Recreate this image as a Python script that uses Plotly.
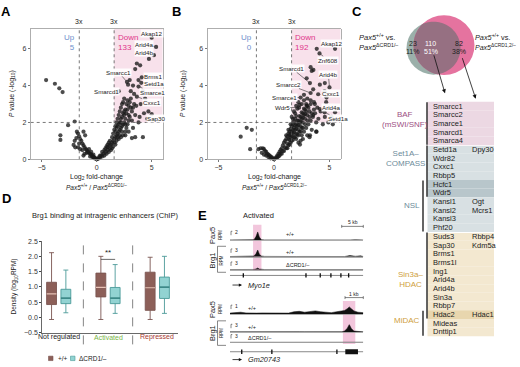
import numpy as np
import plotly.graph_objects as go

W, H = 520, 367
def px(x): return x / W
def py(y): return 1 - y / H

FONT = "Liberation Sans, Arial, sans-serif"

# ---------------- data ----------------
fold_threshold = 3
p_threshold_log = 2
vol_xlim = [-6, 6]
vol_ylim = [0, 7.1]

volcano_a = [
    (5.0, 6.6), (5.4, 6.1), (5.2, 5.65), (4.75, 5.45), (3.65, 5.2), (3.95, 5.1), (3.5, 4.9),
    (2.75, 4.2), (2.85, 4.05), (3.0, 4.3), (4.1, 4.45), (4.05, 4.15), (3.8, 3.95), (3.65, 3.4),
    (4.6, 2.2), (5.0, 2.45), (2.0, 3.7), (3.3, 4.0), (3.1, 3.7), (3.4, 3.55), (3.8, 4.3),
    (4.2, 3.7), (4.4, 3.3), (4.0, 3.0), (3.6, 2.9), (4.7, 2.6), (4.3, 2.5), (3.9, 2.3),
    (3.2, 2.1), (3.5, 2.4), (4.2, 1.2), (3.5, 1.2), (3.2, 1.15), (2.6, 1.3), (2.9, 1.5),
    (3.8, 2.0), (3.3, 1.7),
    (1.3, 0.8), (1.4, 0.9), (1.5, 1.0), (1.6, 1.1), (1.7, 1.2), (1.8, 1.3), (1.9, 1.4),
    (2.0, 1.5), (2.1, 1.6), (2.2, 1.7), (2.3, 1.8), (2.4, 1.9), (2.5, 2.0), (1.5, 1.4),
    (1.6, 1.6), (1.7, 1.8), (1.8, 2.0), (1.9, 2.2), (2.0, 2.4), (2.1, 2.6), (2.2, 2.8),
    (2.3, 3.0), (2.4, 3.1), (2.5, 3.3), (1.6, 0.9), (1.8, 1.0), (2.0, 1.1), (2.2, 1.2),
    (2.4, 1.3), (2.6, 1.5), (2.7, 1.7), (2.8, 1.9), (2.9, 2.1), (3.0, 2.3), (2.6, 2.2),
    (2.7, 2.5), (2.8, 2.7), (2.9, 2.9), (3.0, 3.1), (3.1, 3.3), (2.2, 2.2), (2.4, 2.5),
    (2.6, 2.7), (2.8, 3.2), (2.1, 2.0), (1.9, 1.8), (1.7, 1.5), (2.3, 2.3), (2.5, 2.6),
    (2.7, 3.0), (3.2, 2.6), (3.3, 2.8), (3.4, 3.0), (2.0, 1.9), (2.2, 2.0), (1.8, 1.7),
    (2.6, 1.9), (2.9, 2.4), (3.1, 2.8), (2.5, 2.4), (2.3, 1.5), (2.1, 1.3), (1.9, 1.2),
    (1.4, 1.2), (1.2, 1.0), (1.1, 0.9), (1.0, 0.8), (0.9, 0.7), (1.2, 0.6), (1.0, 0.5),
    (0.8, 0.4), (0.6, 0.3), (0.4, 0.2), (0.2, 0.1), (0.7, 0.5), (0.5, 0.4), (0.3, 0.2),
    (1.1, 0.4), (0.9, 0.3), (0.7, 0.2), (0.5, 0.15), (0.3, 0.08), (0.1, 0.02), (0.0, 0.0),
    (1.3, 0.5), (1.5, 0.7), (1.7, 0.8), (0.8, 0.6), (1.0, 0.65), (1.2, 0.75), (1.4, 0.6),
    (-0.1, 0.05), (-0.2, 0.1), (-0.3, 0.12), (-0.4, 0.2), (-0.5, 0.25), (-0.6, 0.3),
    (-0.7, 0.35), (-0.8, 0.4), (-0.9, 0.5), (-1.0, 0.55), (-1.1, 0.65), (-1.2, 0.75),
    (-1.3, 0.85), (-1.4, 1.0), (-1.5, 1.1), (-1.6, 1.25), (-1.7, 1.4), (-1.8, 1.5),
    (-0.3, 0.25), (-0.5, 0.4), (-0.7, 0.55), (-0.9, 0.35), (-1.1, 0.3), (-1.3, 0.5),
    (-1.5, 0.55), (-1.2, 0.2), (-0.2, 0.05), (-0.4, 0.12), (-0.6, 0.15), (-1.6, 0.85),
    (-1.85, 1.15), (-1.7, 0.65), (-2.0, 1.0), (-1.95, 0.65), (-2.1, 0.78), (-1.2, 1.5),
    (-1.05, 1.3), (-2.6, 1.85), (-2.0, 2.05), (-3.3, 1.3), (-3.3, 1.05),
    (-4.6, 4.3), (-3.8, 4.1), (-3.4, 3.85), (-3.1, 3.65),
]

volcano_b = [
    (0.1, 0.05), (0.2, 0.1), (0.3, 0.2), (0.4, 0.3), (0.5, 0.4), (0.6, 0.5), (0.7, 0.6),
    (0.8, 0.75), (0.9, 0.9), (1.0, 1.0), (1.1, 1.1), (1.2, 1.25), (1.3, 1.4), (1.4, 1.5),
    (1.5, 1.65), (1.6, 1.8), (1.7, 1.9), (1.8, 2.05), (1.9, 2.2), (2.0, 2.35),
    (0.3, 0.1), (0.5, 0.2), (0.7, 0.3), (0.9, 0.45), (1.1, 0.6), (1.3, 0.75), (1.5, 0.9),
    (1.7, 1.05), (1.9, 1.2), (2.1, 1.35), (2.3, 1.5), (2.5, 1.7),
    (0.4, 0.15), (0.6, 0.3), (0.8, 0.45), (1.0, 0.65), (1.2, 0.85), (1.4, 1.05), (1.6, 1.25),
    (1.8, 1.45), (2.0, 1.65), (2.2, 1.85), (2.4, 2.05), (2.6, 2.25), (2.8, 2.45),
    (1.1, 1.3), (1.3, 1.6), (1.5, 1.9), (1.7, 2.2), (1.9, 2.5), (2.1, 2.75), (2.3, 2.95),
    (1.6, 2.3), (1.8, 2.6), (2.0, 2.9), (2.2, 3.1),
    (1.2, 0.6), (1.4, 0.8), (1.6, 1.0), (1.8, 1.2), (2.0, 1.4), (2.2, 1.6), (2.4, 1.8),
    (2.6, 2.0), (2.8, 2.2), (3.0, 2.4), (3.2, 2.6),
    (1.5, 1.2), (1.7, 1.4), (1.9, 1.6), (2.1, 1.8), (2.3, 2.0), (2.5, 2.2), (2.7, 2.4),
    (2.9, 2.6), (3.1, 2.8), (3.3, 3.0),
    (1.4, 1.3), (1.6, 1.5), (1.8, 1.7), (2.0, 1.9), (2.2, 2.1), (2.4, 2.3), (2.6, 2.5),
    (2.8, 2.7), (3.0, 2.9),
    (1.3, 1.1), (1.5, 1.35), (1.7, 1.6), (1.9, 1.85), (2.1, 2.1), (2.3, 2.35), (2.5, 2.55),
    (2.7, 2.75), (2.9, 3.0),
    (2.0, 1.1), (2.2, 1.3), (2.4, 1.5), (2.6, 1.7), (2.8, 1.9), (3.0, 2.1), (3.2, 2.3),
    (3.4, 2.5), (3.6, 2.7),
    (2.5, 1.3), (2.7, 1.5), (2.9, 1.7), (3.1, 1.9), (3.3, 2.1), (3.5, 2.3), (3.7, 2.5),
    (2.2, 0.9), (2.6, 1.1), (3.0, 1.3), (3.4, 1.6), (3.8, 1.5), (3.2, 1.2), (2.4, 1.0),
    (3.8, 2.0), (4.0, 2.2), (4.2, 2.6), (3.9, 2.8), (3.6, 3.1), (3.3, 3.2), (3.0, 3.3),
    (2.7, 3.2), (2.5, 3.0),
    (2.4, 3.35), (2.26, 2.8), (2.7, 3.5), (3.3, 3.6), (2.94, 4.4), (3.24, 4.14), (3.55, 4.85),
    (3.4, 4.8), (3.3, 5.0), (3.53, 3.8), (3.98, 3.53), (3.68, 3.0), (2.94, 2.9), (4.13, 2.73),
    (4.58, 2.3), (5.18, 2.3), (5.5, 2.55), (3.53, 2.4), (4.55, 2.55), (4.7, 3.1), (4.73, 3.35),
    (4.55, 3.7), (4.13, 4.05), (4.58, 4.14), (5.0, 3.9), (3.85, 6.0), (5.5, 6.0), (4.1, 5.75),
    (3.83, 1.5), (3.24, 1.3), (2.34, 0.8), (4.4, 1.9), (4.9, 2.0), (5.3, 1.9),
    (-0.1, 0.05), (-0.2, 0.1), (-0.3, 0.15), (-0.4, 0.2), (-0.5, 0.25), (-0.6, 0.3),
    (-0.7, 0.4), (-0.8, 0.45), (-0.9, 0.55), (-1.0, 0.6), (-0.3, 0.05), (-0.5, 0.12),
    (-0.7, 0.2), (-1.2, 0.6), (-1.4, 0.55), (-2.15, 0.55), (-2.0, 1.6), (-2.46, 1.71),
    (-3.0, 1.23), (-1.1, 0.35), (-0.9, 0.25), (0.0, 0.0),
]

counts_a = {"up": 5, "down": 133}
counts_b = {"up": 0, "down": 192}

# labelled genes: (name, log2fc, -log10 p)
labels_a = [("Akap12", 5.0, 6.6), ("Arid4a", 5.4, 6.1), ("Arid4b", 5.2, 5.65),
            ("Smarcc1", 2.75, 4.2), ("Brms1", 4.1, 4.45), ("Setd1a", 4.05, 4.15),
            ("Smarce1", 3.8, 3.95), ("Cxxc1", 3.65, 3.4), ("Sap30", 4.6, 2.2),
            ("Smarcd1", 2.0, 3.7)]
labels_b = [("Akap12", 5.5, 6.0), ("Znf608", 4.1, 5.75), ("Smarcd1", 3.24, 4.14),
            ("Arid4b", 5.0, 3.9), ("Smarcc2", 3.3, 3.6), ("Cxxc1", 4.55, 3.7),
            ("Smarce1", 2.4, 3.35), ("Arid4a", 4.7, 3.1), ("Wdr5", 2.26, 2.8),
            ("Setd1a", 4.55, 2.55)]
# label text positions (layout)
label_pos_a = {"Akap12": (5.0, 6.85), "Arid4a": (4.3, 6.25), "Arid4b": (4.3, 5.78),
               "Smarcc1": (2.0, 4.72), "Brms1": (5.15, 4.5), "Setd1a": (5.2, 4.12),
               "Smarce1": (5.1, 3.65), "Cxxc1": (5.0, 3.1), "Sap30": (5.35, 2.2),
               "Smarcd1": (0.9, 3.7)}
label_pos_b = {"Akap12": (5.2, 6.3), "Znf608": (4.9, 5.38), "Smarcd1": (1.6, 4.94),
               "Arid4b": (4.9, 4.58), "Smarcc2": (1.3, 4.06), "Cxxc1": (5.15, 3.56),
               "Smarce1": (0.95, 3.35), "Arid4a": (5.15, 2.82), "Wdr5": (0.75, 2.82),
               "Setd1a": (5.75, 2.2)}

venn_counts = [23, 110, 82]
venn_pct = ["11%", "51%", "38%"]

table_genes = ["Smarcc1", "Smarcc2", "Smarce1", "Smarcd1", "Smarca4",
               "Setd1a", "Wdr82", "Cxxc1", "Rbbp5",
               "Hcfc1", "Wdr5",
               "Kansl1", "Kansl2", "Kansl3", "Phf20",
               "Suds3", "Sap30", "Brms1", "Brms1l", "Ing1", "Arid4a", "Arid4b", "Sin3a", "Rbbp7",
               "Hdac2",
               "Mideas", "Dnttip1"]
table_extra = {"Setd1a": "Dpy30", "Kansl1": "Ogt", "Kansl2": "Mcrs1",
               "Suds3": "Rbbp4", "Sap30": "Kdm5a", "Hdac2": "Hdac1"}
row_group = (["baf"] * 5 + ["set"] * 4 + ["setnsl"] * 2 + ["nsl"] * 4 +
             ["sin"] * 9 + ["sinmid"] + ["mid"] * 2)
complexes = [("BAF<br>(mSWI/SNF)", 0, 4), ("Set1A–<br>COMPASS", 5, 10), ("NSL", 9, 14),
             ("Sin3a–<br>HDAC", 15, 24), ("MiDAC", 24, 26)]

box_groups = ["Not regulated", "Activated", "Repressed"]
wt_box = dict(low=[-0.07, -0.07, -0.07], q1=[0.42, 0.67, 0.23], med=[0.77, 0.98, 0.97],
              q3=[1.15, 1.45, 1.48], high=[2.12, 2.0, 1.97])
ko_box = dict(low=[0.15, 0.13, 0.13], q1=[0.45, 0.45, 0.62], med=[0.63, 0.63, 0.99],
              q3=[0.92, 0.98, 1.32], high=[1.55, 1.73, 2.0])

# genome tracks (position along locus 0-100, signal in RPM)
myo1e_pos = [0, 4, 8, 12, 16, 18, 19.5, 20.8, 22, 23.5, 26, 30, 34, 38, 42, 46, 50, 54, 58,
             62, 66, 70, 74, 78, 82, 86, 90, 94, 98, 100]
myo1e_pax5 = [0.05, 0.04, 0.05, 0.04, 0.05, 0.1, 0.8, 1.85, 0.7, 0.1, 0.05, 0.04, 0.05, 0.04,
              0.05, 0.04, 0.05, 0.05, 0.04, 0.05, 0.06, 0.05, 0.04, 0.05, 0.06, 0.05, 0.04,
              0.08, 0.05, 0.04]
myo1e_brg1_wt = [0.1, 0.1, 0.12, 0.1, 0.15, 0.3, 1.2, 2.6, 1.0, 0.3, 0.15, 0.1, 0.12, 0.1,
                 0.1, 0.12, 0.1, 0.12, 0.1, 0.1, 0.12, 0.1, 0.1, 0.15, 0.12, 0.1, 0.5, 0.2,
                 0.35, 0.1]
myo1e_brg1_ko = [0.1, 0.08, 0.1, 0.08, 0.1, 0.15, 0.35, 0.7, 0.3, 0.12, 0.1, 0.1, 0.15, 0.1,
                 0.08, 0.12, 0.1, 0.1, 0.1, 0.12, 0.08, 0.1, 0.1, 0.12, 0.1, 0.1, 0.12, 0.1,
                 0.12, 0.1]
myo1e_exons = [10, 57, 67.7, 75.7, 83.2, 89]

gm_pos = [0, 4, 8, 12, 16, 20, 24, 28, 32, 36, 40, 44, 48, 52, 56, 60, 64, 68, 72, 76, 80,
          84, 86, 88, 89.5, 91, 93, 96, 100]
gm_pax5 = [0.1, 0.15, 0.2, 0.12, 0.15, 0.1, 0.12, 0.1, 0.1, 0.12, 0.1, 0.1, 0.25, 0.3, 0.2,
           0.3, 0.35, 0.25, 0.2, 0.15, 0.25, 0.3, 0.4, 0.6, 0.8, 0.6, 0.35, 0.2, 0.15]
gm_brg1_wt = [0.1, 0.12, 0.15, 0.1, 0.12, 0.1, 0.15, 0.1, 0.12, 0.1, 0.1, 0.12, 0.1, 0.15,
              0.12, 0.1, 0.15, 0.12, 0.1, 0.12, 0.1, 0.15, 0.4, 1.5, 2.9, 1.4, 0.4, 0.15, 0.1]
gm_brg1_ko = [0.05, 0.06, 0.05, 0.06, 0.05, 0.06, 0.05, 0.06, 0.08, 0.1, 0.12, 0.1, 0.08, 0.1,
              0.12, 0.1, 0.08, 0.1, 0.08, 0.1, 0.12, 0.15, 0.12, 0.1, 0.12, 0.1, 0.08, 0.1, 0.08]
gm_exons = [8.8, 31.4, 80.2]
gm_block = [86.5, 96]

# ---------------- figure ----------------
fig = go.Figure()
shapes, annos = [], []

def A(x, y, text, size=7, color="#222", xanchor="center", yanchor="middle", **kw):
    d = dict(x=px(x), y=py(y), xref="paper", yref="paper", text=text, showarrow=False,
             font=dict(size=size, color=color, family=FONT), xanchor=xanchor, yanchor=yanchor)
    d.update(kw)
    annos.append(d)

def arrow(x0, y0, x1, y1, head=2, width=0.8, size=1.0):
    annos.append(dict(x=px(x1), y=py(y1), ax=x0 - x1, ay=y0 - y1, xref="paper", yref="paper",
                      axref="pixel", ayref="pixel", text=" ", showarrow=True, arrowhead=head,
                      arrowsize=size, arrowwidth=width, arrowcolor="#111",
                      font=dict(size=1)))

lfc3 = np.log2(fold_threshold)

# ---- volcano panels ----
vol_panels = [
    ("x", "y", volcano_a, labels_a, label_pos_a, counts_a, (30.7, 162.7), "ΔCRD1/–", 12),
    ("x2", "y2", volcano_b, labels_b, label_pos_b, counts_b, (207.4, 340.6), "ΔCRD1,2/–", 183),
]
for i, (xa, ya, pts, labs, lpos, cnt, dom, geno, ytitle_x) in enumerate(vol_panels):
    xs = [p[0] for p in pts]
    ys = [p[1] for p in pts]
    fig.add_trace(go.Scatter(x=xs, y=ys, mode="markers", xaxis=xa, yaxis=ya, showlegend=False,
                             cliponaxis=False,
                             marker=dict(size=4.2, color="rgba(25,25,25,0.78)", line=dict(width=0))))
    axn = "" if i == 0 else "2"
    fig.layout["xaxis" + axn] = dict(domain=[px(dom[0]), px(dom[1])], range=vol_xlim,
                                     anchor=ya, showgrid=False, zeroline=False,
                                     showline=True, mirror=True, linecolor="#9a9a9a", linewidth=0.8,
                                     ticks="outside", ticklen=2, tickcolor="#777",
                                     tickvals=[-5, 0, 5], tickfont=dict(size=7, family=FONT, color="#333"))
    fig.layout["yaxis" + axn] = dict(domain=[py(158.3), py(25)], range=vol_ylim, anchor=xa,
                                     showgrid=False, zeroline=False, showline=True, mirror=True,
                                     linecolor="#9a9a9a", linewidth=0.8, ticks="outside", ticklen=2,
                                     tickcolor="#777", tickvals=[0, 2, 4, 6],
                                     tickfont=dict(size=7, family=FONT, color="#333"))
    shapes.append(dict(type="rect", xref=xa, yref=ya, x0=lfc3, x1=vol_xlim[1], y0=p_threshold_log,
                       y1=vol_ylim[1], fillcolor="#f8e1eb", line=dict(width=0), layer="below"))
    for xv in (-lfc3, lfc3):
        shapes.append(dict(type="line", xref=xa, yref=ya, x0=xv, x1=xv, y0=vol_ylim[0], y1=vol_ylim[1],
                           line=dict(color="#555", width=0.8, dash="dot")))
        annos.append(dict(x=xv, y=vol_ylim[1], xref=xa, yref=ya, text=f"{fold_threshold}x",
                          showarrow=False, yanchor="bottom", yshift=2,
                          font=dict(size=7, family=FONT, color="#222")))
    shapes.append(dict(type="line", xref=xa, yref=ya, x0=vol_xlim[0], x1=vol_xlim[1],
                       y0=p_threshold_log, y1=p_threshold_log,
                       line=dict(color="#555", width=0.8, dash="dot")))
    annos.append(dict(x=-lfc3 - 0.25, y=6.95, xref=xa, yref=ya, text=f"Up<br>{cnt['up']}",
                      showarrow=False, xanchor="right", yanchor="top", align="right",
                      font=dict(size=8, family=FONT, color="#6f90cc")))
    annos.append(dict(x=lfc3 + 0.15, y=6.95, xref=xa, yref=ya, text=f"Down<br>{cnt['down']}",
                      showarrow=False, xanchor="left", yanchor="top", align="left",
                      font=dict(size=8, family=FONT, color="#e0348a")))
    for name, lx, ly in labs:
        tx, ty = lpos[name]
        annos.append(dict(x=lx, y=ly, xref=xa, yref=ya, ax=tx, ay=ty, axref=xa, ayref=ya,
                          text=name, showarrow=True, arrowhead=0, arrowwidth=0.6,
                          arrowcolor="#333", standoff=1.5, bgcolor="rgba(255,255,255,0.9)",
                          borderpad=0, font=dict(size=6.2, family=FONT, color="#222")))
    cx = (dom[0] + dom[1]) / 2
    A(cx, 176.5, "Log<sub>2</sub> fold-change", size=7)
    A(cx, 187, f"<i>Pax5</i><sup>+/+</sup> / <i>Pax5</i><sup>{geno}</sup>", size=6.5)
    A(ytitle_x, 92, "<i>P</i> value (-log<sub>10</sub>)", size=7, textangle=-90)

# ---- panel letters ----
for lt, x, y in [("A", 6, 8), ("B", 176, 8), ("C", 357, 8), ("D", 6, 198), ("E", 202, 216)]:
    A(x, y, f"<b>{lt}</b>", size=13, color="#000")

# ---- Venn (C) ----
g_c, g_r = (433.5, 45.0), 27.0
p_c, p_r = (444.0, 42.0), 30.5
def circ(c, r, color):
    shapes.append(dict(type="circle", xref="paper", yref="paper", x0=px(c[0] - r), x1=px(c[0] + r),
                       y0=py(c[1] + r), y1=py(c[1] - r), fillcolor=color, line=dict(width=0)))
circ(g_c, g_r, "#9bb0aa")
circ(p_c, p_r, "#e5739f")
d = np.hypot(p_c[0] - g_c[0], p_c[1] - g_c[1])
ang = np.arctan2(p_c[1] - g_c[1], p_c[0] - g_c[0])
a_g = np.arccos((g_r**2 + d**2 - p_r**2) / (2 * g_r * d))
a_p = np.arccos((p_r**2 + d**2 - g_r**2) / (2 * p_r * d))
t1 = np.linspace(ang - a_g, ang + a_g, 50)
t2 = np.linspace(ang + np.pi - a_p, ang + np.pi + a_p, 50)
ptsl = [(g_c[0] + g_r * np.cos(t), g_c[1] + g_r * np.sin(t)) for t in t1] + \
       [(p_c[0] + p_r * np.cos(t), p_c[1] + p_r * np.sin(t)) for t in t2]
path = "M " + " L ".join(f"{px(a):.5f},{py(b):.5f}" for a, b in ptsl) + " Z"
shapes.append(dict(type="path", xref="paper", yref="paper", path=path, fillcolor="#967082",
                   line=dict(width=0)))
for (x, c_), n, pc in zip([(413.3, "#222"), (430.5, "#fff"), (458.5, "#222")], venn_counts, venn_pct):
    A(x, 40.7, str(n), size=7, color=c_)
    A(x, 48.5, pc, size=7, color=c_)
A(357, 33.5, "<i>Pax5</i><sup>+/+</sup> vs.", size=7.5, xanchor="left")
A(357, 44, "<i>Pax5</i><sup>ΔCRD1/–</sup>", size=7.5, xanchor="left")
A(473, 33.5, "<i>Pax5</i><sup>+/+</sup> vs.", size=7.3, xanchor="left")
A(473, 44, "<i>Pax5</i><sup>ΔCRD1,2/–</sup>", size=7, xanchor="left")
arrow(433.3, 51, 445, 91)
arrow(461.7, 54, 475.7, 96.5)

# ---- table (C) ----
row0, pitch = 104.0, 8.86
fills = {"baf": "#ecd8e3", "set": "#d8e0e3", "setnsl": "#b8c6cb", "nsl": "#d8e0e3",
         "sin": "#f3e8d0", "sinmid": "#e8d6ae", "mid": "#f3e8d0"}
for k, (g, grp) in enumerate(zip(table_genes, row_group)):
    yc = row0 + k * pitch
    top = yc - pitch / 2
    bot = yc + pitch / 2
    if k in (5, 15):
        top += 1.0
    shapes.append(dict(type="rect", xref="paper", yref="paper", x0=px(427.5), x1=px(494),
                       y0=py(bot), y1=py(top), fillcolor=fills[grp], line=dict(width=0), layer="below"))
    A(431, yc, g, size=7.5, xanchor="left")
    if g in table_extra:
        A(470, yc, table_extra[g], size=7.5, xanchor="left")
cx_lab = {"BAF<br>(mSWI/SNF)": (405, "#9c4f83"), "Set1A–<br>COMPASS": (405, "#6d8b9a"),
          "NSL": (412, "#6d8b9a"), "Sin3a–<br>HDAC": (410, "#cfa040"), "MiDAC": (407, "#cfa040")}
bar_x = {"BAF<br>(mSWI/SNF)": 427, "Set1A–<br>COMPASS": 427, "NSL": 423,
         "Sin3a–<br>HDAC": 427, "MiDAC": 423}
lab_y = {"BAF<br>(mSWI/SNF)": 118, "Set1A–<br>COMPASS": 157.5, "NSL": 205,
         "Sin3a–<br>HDAC": 281, "MiDAC": 322.5}
for name, r0, r1 in complexes:
    xl, col = cx_lab[name]
    A(xl, lab_y[name], name, size=8, color=col)
    bx = bar_x[name]
    y0 = row0 + r0 * pitch - pitch / 2 + 0.5
    y1 = row0 + r1 * pitch + pitch / 2 - 0.5
    shapes.append(dict(type="line", xref="paper", yref="paper", x0=px(bx), x1=px(bx),
                       y0=py(y0), y1=py(y1), line=dict(color="#111", width=1.3)))

# ---- box plot (D) ----
gx = [0, 1, 2]
off, bw = 0.145, 0.2
fig.add_trace(go.Box(x=[g - off for g in gx], q1=wt_box["q1"], median=wt_box["med"],
                     q3=wt_box["q3"], lowerfence=wt_box["low"], upperfence=wt_box["high"],
                     width=bw, fillcolor="#8c5f58", line=dict(color="#7a5550", width=0.9),
                     xaxis="x3", yaxis="y3", showlegend=False, name="+/+"))
fig.add_trace(go.Box(x=[g + off for g in gx], q1=ko_box["q1"], median=ko_box["med"],
                     q3=ko_box["q3"], lowerfence=ko_box["low"], upperfence=ko_box["high"],
                     width=bw, fillcolor="#92d3d2", line=dict(color="#4b9a98", width=0.9),
                     xaxis="x3", yaxis="y3", showlegend=False, name="ΔCRD1/–"))
for g, m in zip(gx, wt_box["med"]):
    shapes.append(dict(type="line", xref="x3", yref="y3", x0=g - off - bw / 2, x1=g - off + bw / 2,
                       y0=m, y1=m, line=dict(color="#e9c3b6", width=1.2)))
for g, m in zip(gx, ko_box["med"]):
    shapes.append(dict(type="line", xref="x3", yref="y3", x0=g + off - bw / 2, x1=g + off + bw / 2,
                       y0=m, y1=m, line=dict(color="#2f7d7b", width=1.2)))
for xv in (0.5, 1.5):
    shapes.append(dict(type="line", xref="x3", yref="paper", x0=xv, x1=xv, y0=py(347), y1=py(241),
                       line=dict(color="#777", width=0.9, dash="dash")))
shapes.append(dict(type="line", xref="x3", yref="y3", x0=1 - off, x1=1 + off, y0=1.9, y1=1.9,
                   line=dict(color="#444", width=0.8)))
annos.append(dict(x=1, y=1.92, xref="x3", yref="y3", text="**", showarrow=False, yanchor="bottom",
                  font=dict(size=8, family=FONT, color="#222")))
grp_colors = ["#222", "#7ab648", "#a83a33"]
fig.layout["xaxis3"] = dict(domain=[px(42), px(178)], range=[-0.339, 2.42], anchor="y3",
                            showgrid=False, zeroline=False, showline=True, linecolor="#444",
                            linewidth=0.8, ticks="", tickvals=gx, showticklabels=False)
for g, t, c in zip(gx, box_groups, grp_colors):
    annos.append(dict(x=g, y=py(345.5), xref="x3", yref="paper", text=t, showarrow=False,
                      font=dict(size=7, family=FONT, color=c)))
fig.layout["yaxis3"] = dict(domain=[py(335), py(241.7)], range=[-0.5, 2.5], anchor="x3",
                            showgrid=False, zeroline=False, showline=True, linecolor="#444",
                            linewidth=0.8, ticks="outside", ticklen=2, tickcolor="#444", dtick=0.5,
                            tickformat=".1f", tickfont=dict(size=7, family=FONT, color="#333"))
A(105, 216, "Brg1 binding at intragenic enhancers (ChIP)", size=7.5)
A(14, 288, "Density (log<sub>10</sub>RPM)", size=6.5, textangle=-90)
shapes.append(dict(type="rect", xref="paper", yref="paper", x0=px(48.5), x1=px(53), y0=py(363.5),
                   y1=py(359), fillcolor="#8c5f58", line=dict(color="#7a5550", width=0.6)))
A(55.5, 361.3, "+/+", size=6.5, xanchor="left")
shapes.append(dict(type="rect", xref="paper", yref="paper", x0=px(70.5), x1=px(75), y0=py(363.5),
                   y1=py(359), fillcolor="#92d3d2", line=dict(color="#4b9a98", width=0.6)))
A(77, 361.3, "ΔCRD1/–", size=6.5, xanchor="left")

# ---- genome tracks (E) ----
tracks = [
    ("4", myo1e_pos, myo1e_pax5, 2, 240.7, 231.7, "+/+"),
    ("5", myo1e_pos, myo1e_brg1_wt, 3, 257.7, 249.7, "+/+"),
    ("6", myo1e_pos, myo1e_brg1_ko, 3, 271.0, 263.0, "ΔCRD1/–"),
    ("7", gm_pos, gm_pax5, 1, 316.0, 307.0, "+/+"),
    ("8", gm_pos, gm_brg1_wt, 3, 334.5, 326.5, "+/+"),
    ("9", gm_pos, gm_brg1_ko, 3, 345.0, 337.0, "ΔCRD1/–"),
]
tx0, tx1 = 230.0, 363.3
shapes.append(dict(type="rect", xref="x4", yref="paper", x0=17.3, x1=23.6, y0=py(271.7), y1=py(225),
                   fillcolor="#f2c6dc", line=dict(width=0), layer="below"))
shapes.append(dict(type="rect", xref="x7", yref="paper", x0=84.7, x1=94, y0=py(346.7), y1=py(302.7),
                   fillcolor="#f2c6dc", line=dict(width=0), layer="below"))
for n, (ax, pos, sig, ymax, base, top, lab) in enumerate(tracks):
    fig.add_trace(go.Scatter(x=pos, y=sig, mode="lines", fill="tozeroy", fillcolor="#111",
                             line=dict(color="#111", width=0.5), xaxis="x" + ax, yaxis="y" + ax,
                             showlegend=False, hoverinfo="skip"))
    fig.layout["xaxis" + ax] = dict(domain=[px(tx0), px(tx1)], range=[0, 100], anchor="y" + ax,
                                    showgrid=False, zeroline=False, showticklabels=False,
                                    showline=True, linecolor="#999", linewidth=0.8, ticks="")
    fig.layout["yaxis" + ax] = dict(domain=[py(base), py(top)], range=[0, ymax], anchor="x" + ax,
                                    visible=False, fixedrange=True)
    A(232.5, top + 1, str(ymax), size=5, xanchor="left")
    shapes.append(dict(type="line", xref="paper", yref="paper", x0=px(231), x1=px(231), y0=py(top + 4),
                       y1=py(top), line=dict(color="#333", width=0.6)))
    shapes.append(dict(type="line", xref="paper", yref="paper", x0=px(231), x1=px(232.3), y0=py(top),
                       y1=py(top), line=dict(color="#333", width=0.6)))
    xl = 290 if n < 3 else 252
    if lab != "+/+":
        xl += 8
    A(xl, top + 3, lab, size=5.5)

for yc_p, yc_b, b0, b1 in [(236, 262, 247, 273.5), (311.5, 336, 323, 348)]:
    A(212.5, yc_p, "Pax5", size=7.5, textangle=-90)
    A(220.5, yc_p, "RPM", size=4.5, textangle=-90)
    A(212.5, yc_b, "Brg1", size=7.5, textangle=-90)
    A(221.5, yc_b, "RPM", size=4.5, textangle=-90)
    shapes.append(dict(type="path", xref="paper", yref="paper",
                       path=f"M {px(226):.5f},{py(b0):.5f} L {px(217.5):.5f},{py(b0):.5f} L {px(217.5):.5f},{py(b1):.5f} L {px(226):.5f},{py(b1):.5f}",
                       line=dict(color="#555", width=0.7)))

A(258, 216, "Activated", size=7.5)
for axg, gy, exons in [("x4", 276.7, myo1e_exons), ("x7", 354.5, gm_exons)]:
    shapes.append(dict(type="line", xref=axg, yref="paper", x0=0, x1=100, y0=py(gy), y1=py(gy),
                       line=dict(color="#888", width=1)))
    for e in exons:
        shapes.append(dict(type="rect", xref=axg, yref="paper", x0=e - 0.5, x1=e + 0.5,
                           y0=py(gy + 2.2), y1=py(gy - 2.2), fillcolor="#111", line=dict(width=0)))
shapes.append(dict(type="rect", xref="x7", yref="paper", x0=gm_block[0], x1=gm_block[1],
                   y0=py(357), y1=py(352), fillcolor="#111", line=dict(width=0)))
for gy, name in [(286.5, "Myo1e"), (362.5, "Gm20743")]:
    arrow(231, gy, 242, gy, head=2, width=0.8, size=0.8)
    A(246, gy, f"<i>{name}</i>", size=7.3, xanchor="left")
for yb, lab, x0 in [(226.7, "5 kb", 341.7), (299.3, "1 kb", 345)]:
    shapes.append(dict(type="line", xref="paper", yref="paper", x0=px(x0), x1=px(363.3), y0=py(yb),
                       y1=py(yb), line=dict(color="#333", width=0.6)))
    for xe in (x0, 363.3):
        shapes.append(dict(type="line", xref="paper", yref="paper", x0=px(xe), x1=px(xe),
                           y0=py(yb - 1.5), y1=py(yb + 1.5), line=dict(color="#333", width=0.6)))
    A((x0 + 363.3) / 2, yb - 4, lab, size=5)

fig.update_layout(width=W, height=H, margin=dict(l=0, r=0, t=0, b=0), paper_bgcolor="white",
                  plot_bgcolor="rgba(0,0,0,0)", shapes=shapes, annotations=annos,
                  font=dict(family=FONT), showlegend=False)
fig.write_html("out.html", config={"displayModeBar": False, "staticPlot": True},
               post_script="document.body.style.margin='0';document.body.style.overflow='hidden';")
